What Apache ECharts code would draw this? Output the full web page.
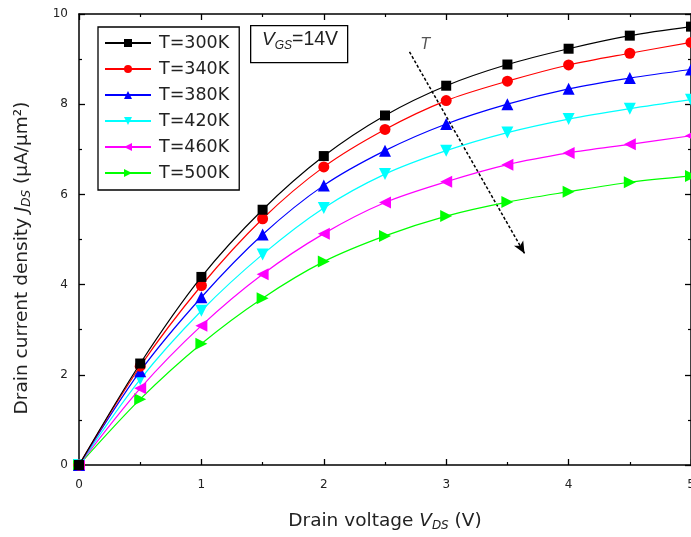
<!DOCTYPE html>
<html><head><meta charset="utf-8">
<script src="https://cdn.jsdelivr.net/npm/echarts@6/dist/echarts.min.js"></script>
<style>html,body{margin:0;padding:0;background:#fff;overflow:hidden}#c{width:700px;height:537px}</style>
</head><body><div id="c"></div>
<script>
var vds = [0, 0.5, 1, 1.5, 2, 2.5, 3, 3.5, 4, 4.5, 5];
var names = ['T=300K','T=340K','T=380K','T=420K','T=460K','T=500K'];
var j300 = [0, 2.25, 4.17, 5.66, 6.85, 7.75, 8.41, 8.88, 9.23, 9.52, 9.72];
var j340 = [0, 2.19, 3.98, 5.46, 6.61, 7.44, 8.08, 8.51, 8.87, 9.13, 9.37];
var j380 = [0, 2.08, 3.72, 5.11, 6.20, 6.97, 7.56, 8.00, 8.34, 8.58, 8.77];
var j420 = [0, 1.90, 3.42, 4.67, 5.70, 6.45, 6.97, 7.37, 7.67, 7.90, 8.10];
var j460 = [0, 1.70, 3.09, 4.23, 5.13, 5.82, 6.28, 6.66, 6.92, 7.11, 7.30];
var j500 = [0, 1.46, 2.69, 3.70, 4.51, 5.08, 5.52, 5.83, 6.06, 6.27, 6.41];
var xTicks = [0,1,2,3,4,5];
var yTicks = [0,2,4,6,8,10];
var arrowFrom = [2.70, 9.16], arrowTo = [3.64, 4.69];

var all = [j300,j340,j380,j420,j460,j500];
var colors = ['#000000','#ff0000','#0000ff','#00ffff','#ff00ff','#00ff00'];
var symbols = ['rect','circle','triangle','triangle','triangle','triangle'];
var rots = [0,0,0,180,90,-90];
var sizes = [10,11,12,12,12,12];

var series = all.map(function(arr,i){
  return {
    name: names[i], type:'line', smooth:0.3,
    data: vds.map(function(x,k){return [x,arr[k]];}),
    symbol: symbols[i], symbolRotate: rots[i], symbolSize: sizes[i],
    showAllSymbol:true,
    lineStyle:{color:colors[i], width:1.2},
    itemStyle:{color:colors[i]},
    z: 10-i
  };
});
series[0].markLine = {
  silent:true, symbol:['none','arrow'], symbolSize:[8,12],
  label:{show:false},
  lineStyle:{color:'#000', width:1.5, type:[3,2]},
  data:[[{coord:arrowFrom},{coord:arrowTo}]]
};

var FONT = 'DejaVu Sans';
var axisCommon = {
  min:0, axisLine:{onZero:false, lineStyle:{color:'#000', width:1.5}},
  axisTick:{inside:true, length:6, lineStyle:{color:'#000', width:1.3}},
  minorTick:{show:true, splitNumber:2, length:3, lineStyle:{color:'#000', width:1.2}},
  splitLine:{show:false}
};
var chart = echarts.init(document.getElementById('c'));
chart.setOption({
  animation:false,
  backgroundColor:'#fff',
  grid:{left:79, width:612, top:14, height:454},
  xAxis:[Object.assign({}, axisCommon, {
      type:'value', max:5, interval:1, position:'bottom',
      axisLabel:{color:'#222', fontSize:12, fontFamily:FONT, margin:14,
        formatter:function(v){return xTicks.indexOf(v)>=0?String(v):'';}},
      name:'{n|Drain voltage }{v|V}{s|DS}{n| (V)}', nameLocation:'middle', nameGap:45,
      nameTextStyle:{rich:{
        n:{fontSize:18.5, fontFamily:FONT, color:'#222'},
        v:{fontSize:18.5, fontFamily:FONT, fontStyle:'italic', color:'#222'},
        s:{fontSize:12, fontFamily:FONT, fontStyle:'italic', color:'#222', verticalAlign:'bottom', padding:[10,0,0,0]}
      }}
    }),
    Object.assign({}, axisCommon, {type:'value', max:5, interval:1, position:'top', axisLabel:{show:false}})
  ],
  yAxis:[Object.assign({}, axisCommon, {
      type:'value', max:10, interval:2, position:'left',
      axisLabel:{color:'#222', fontSize:12, fontFamily:FONT, margin:11,
        formatter:function(v){return yTicks.indexOf(v)>=0?String(v):'';}}
    }),
    Object.assign({}, axisCommon, {type:'value', max:10, interval:2, position:'right', axisLabel:{show:false}})
  ],
  legend:{
    orient:'vertical', left:98, top:27, padding:[7,10,8,6],
    borderColor:'#000', borderWidth:1.3, itemGap:8, itemWidth:46, itemHeight:10,
    textStyle:{fontSize:17.5, fontFamily:FONT, color:'#222', padding:[0,0,0,3]},
    data:names
  },
  graphic:[
    {type:'rect', left:250, top:25, shape:{width:97, height:37}, style:{fill:'#fff', stroke:'#000', lineWidth:1.3}},
    {type:'text', left:262, top:30, style:{
      text:'{v|V}{s|GS}{n|=14V}',
      rich:{
        v:{fontSize:19, fontFamily:'Liberation Sans', fontStyle:'italic', fill:'#222'},
        s:{fontSize:12, fontFamily:'Liberation Sans', fontStyle:'italic', fill:'#222', verticalAlign:'bottom', padding:[11,0,0,0]},
        n:{fontSize:19.5, fontFamily:'Liberation Sans', fill:'#222'}
      }}},
    {type:'text', left:421, top:38, style:{text:'T', fontSize:15, fontStyle:'italic', fontFamily:FONT, fill:'#555'}},
    {type:'text', x:22, y:258, rotation:Math.PI/2, style:{
      text:'{n|Drain current density }{v|J}{s|DS}{n| (μA/μm²)}',
      align:'center', verticalAlign:'middle',
      rich:{
        n:{fontSize:18.5, fontFamily:FONT, fill:'#222'},
        v:{fontSize:18.5, fontFamily:FONT, fontStyle:'italic', fill:'#222'},
        s:{fontSize:12, fontFamily:FONT, fontStyle:'italic', fill:'#222', verticalAlign:'bottom', padding:[10,0,0,0]}
      }}}
  ],
  series:series
});
</script></body></html>
